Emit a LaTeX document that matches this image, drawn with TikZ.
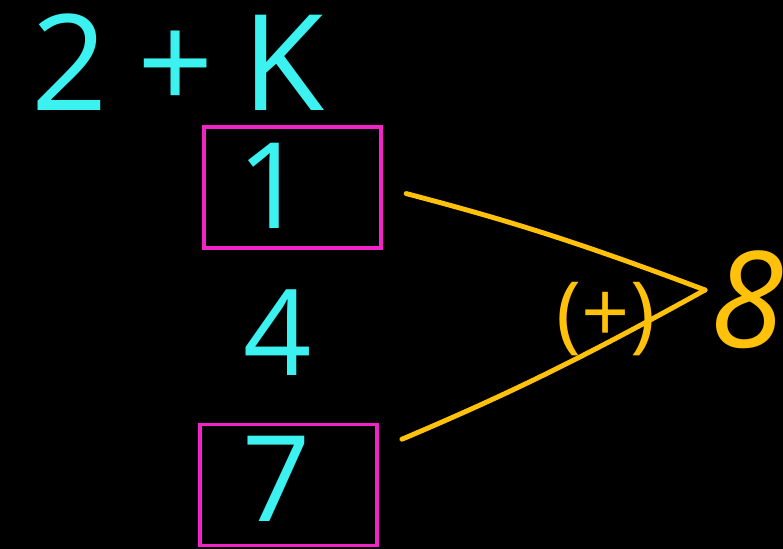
\documentclass[tikz,border=0pt]{standalone}
\usepackage{fontspec}
\setmainfont{Open Sans}
\usetikzlibrary{positioning, calc}
\definecolor{inkcyan}{HTML}{3CF2F0}
\definecolor{inkpink}{HTML}{F224C8}
\definecolor{inkamber}{HTML}{FFC10A}

\begin{document}
\begin{tikzpicture}[
            cell/.style={rectangle, draw=inkpink, line width=2.2pt, minimum width=3.54cm, minimum height=2.42cm},
            digit/.style={text=inkcyan, font=\fontsize{68}{70}\selectfont},
            title/.style={text=inkcyan, font=\fontsize{76}{78}\selectfont},
            sum/.style={draw=inkamber, line width=2.8pt, line cap=round},
            note/.style={text=inkamber, font=\fontsize{48}{50}\selectfont},
            result/.style={text=inkamber, font=\itshape\fontsize{76}{78}\selectfont}
        ]
            % Background
            \fill[black] (0,0) rectangle (15.66,-10.98);
            \useasboundingbox (0,0) rectangle (15.66,-10.98);

            % Target
            \node[title] (target) at (3.56,-1.24) {2\hspace{0.22em}+\hspace{0.22em}K};

            % Cells
            \node[cell] (box1) at (5.85,-3.75) {};
            \node[cell] (box7) at (5.77,-9.70) {};
            \node[digit] (one) at (5.44,-3.72) {1};
            \node[digit] (four) at (5.56,-6.66) {4};
            \node[digit] (seven) at (5.54,-9.58) {7};

            % Sum
            \coordinate (apex) at (14.10,-5.80);
            \draw[sum, shorten <=0.48cm] (box1.east) to[bend left=3] (apex);
            \draw[sum, shorten <=0.5cm] (box7.east) ++(0,0.72) coordinate (low) (low) to[bend right=3] (apex);
            \node[note] (plus) at (12.12,-6.38) {(+)};
            \node[result] (eight) at (14.95,-6.0) {8};
        \end{tikzpicture}
\end{document}
